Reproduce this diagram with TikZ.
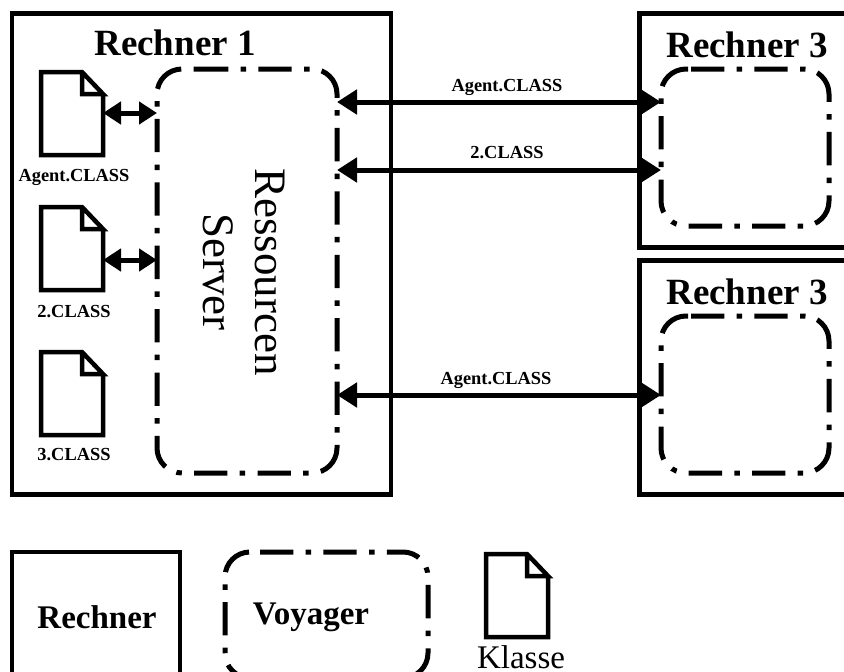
\documentclass[tikz,border=0pt]{standalone}
\usepackage{fontspec}
\setmainfont{Liberation Serif}
\usetikzlibrary{arrows.meta}
\tikzset{
  x=1pt,y=-1pt,
  box/.style={draw,line width=4.5pt,rectangle,inner sep=0pt,outer sep=0pt,anchor=north west},
  voyhold/.style={rectangle,inner sep=0pt,outer sep=0pt,anchor=north west},
  voyline/.style={line width=5pt,rounded corners=25pt,
     dash pattern=on 33.3pt off 12.3pt on 5.5pt off 12.3pt},
  dochold/.style={rectangle,inner sep=0pt,outer sep=0pt,minimum width=62pt,minimum height=83pt,anchor=north west},
  docline/.style={line width=4.5pt,miter limit=10},
  arr/.style={line width=5pt,{Triangle[length=20pt,width=24pt]}-{Triangle[length=20pt,width=24pt]}},
  arrs/.style={line width=5pt,{Triangle[length=18pt,width=22pt]}-{Triangle[length=18pt,width=22pt]}},
  big/.style={font=\fontsize{37}{37}\selectfont\bfseries,inner sep=0pt},
  leg/.style={font=\fontsize{33}{33}\selectfont\bfseries,inner sep=0pt},
  small/.style={font=\fontsize{18.4}{18.4}\selectfont\bfseries,inner sep=0pt},
  rot/.style={font=\fontsize{45}{45}\selectfont,inner sep=0pt,rotate=-90,anchor=base},
}
\newcommand{\docdraw}[1]{%
  \draw[docline] ([xshift=41pt]#1.north west) -- ([xshift=41pt,yshift=-22pt]#1.north west) -- ([yshift=-22pt]#1.north east) -- ([xshift=41pt]#1.north west) -- (#1.north west) -- (#1.south west) -- (#1.south east) -- ([yshift=-22pt]#1.north east);}
\newcommand{\voydraw}[2]{%
  \draw[voyline] ([xshift=#2]#1.north west) -- (#1.north east) -- (#1.south east) -- (#1.south west) -- (#1.north west) -- ([xshift=#2]#1.north west);}
\begin{document}
\begin{tikzpicture}
\useasboundingbox (0,0) rectangle (844,672);
\clip (0,0) rectangle (844,672);
\node[box,minimum width=379pt,minimum height=481pt] (r1) at (12,13.5) {};
\node[box,minimum width=260pt,minimum height=234pt] (r3a) at (639.5,13.5) {};
\node[box,minimum width=260pt,minimum height=234pt] (r3b) at (639.5,260.5) {};
\node[box,minimum width=168pt,minimum height=180pt] (leg1) at (12,552) {};
\node[voyhold,minimum width=180pt,minimum height=404pt] (srv) at (157,69) {};
\node[voyhold,minimum width=168pt,minimum height=157pt] (v3a) at (661,69) {};
\node[voyhold,minimum width=168pt,minimum height=157pt] (v3b) at (661,316) {};
\node[voyhold,minimum width=203pt,minimum height=126pt] (leg2) at (225,552) {};
\voydraw{srv}{38pt}\voydraw{v3a}{30pt}\voydraw{v3b}{30pt}\voydraw{leg2}{35pt}
\node[dochold] (d1) at (41,72) {};
\node[dochold] (d2) at (41,207) {};
\node[dochold] (d3) at (41,352) {};
\node[dochold] (d4) at (486,554) {};
\docdraw{d1}\docdraw{d2}\docdraw{d3}\docdraw{d4}
\node[big] (t1) at (175,43) {Rechner 1};
\node[big] (t2) at (747,45) {Rechner 3};
\node[big] (t3) at (747,292) {Rechner 3};
\node[leg] (t4) at (97,617) {Rechner};
\node[leg] (t5) at (311,617) {Voyager};
\node[font=\fontsize{33}{33}\selectfont,inner sep=0pt,anchor=base] (t7) at (521,668) {Klasse};
\node[small] (a1) at (74,177) {Agent.CLASS};
\node[small] (a2) at (74,312) {2.CLASS};
\node[small] (a3) at (74,455) {3.CLASS};
\node[small] (b1) at (507,87) {Agent.CLASS};
\node[small] (b2) at (507,153) {2.CLASS};
\node[small] (b3) at (496,380) {Agent.CLASS};
\node[rot] (s1) at (255,272) {Ressourcen};
\node[rot] (s2) at (203,272) {Server};
\coordinate (p1) at (0,102);
\coordinate (p2) at (0,170);
\coordinate (p3) at (0,395);
\coordinate (p4) at (0,113);
\coordinate (p5) at (0,260);
\draw[arr] (srv.east |- p1) -- (v3a.west |- p1);
\draw[arr] (srv.east |- p2) -- (v3a.west |- p2);
\draw[arr] (srv.east |- p3) -- (v3b.west |- p3);
\draw[arrs] (d1.east |- p4) -- (srv.west |- p4);
\draw[arrs] (d2.east |- p5) -- (srv.west |- p5);
\end{tikzpicture}
\end{document}
